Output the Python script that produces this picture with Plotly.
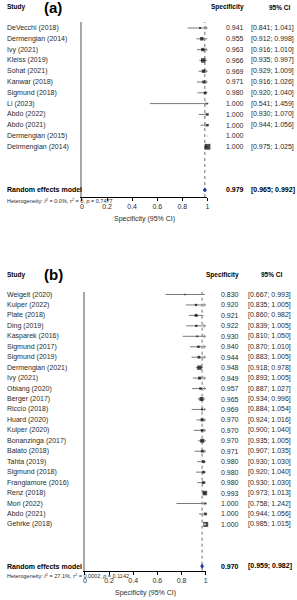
import math
import plotly.graph_objects as go

W, H = 297, 600
FONT = "Liberation Sans, Arial, sans-serif"

# ---------------- data: panel (a) ----------------
a_studies = ["DeVecchi (2018)", "Dermengian (2014)", "Ivy (2021)", "Kleiss (2019)",
             "Sohat (2021)", "Kanwar (2018)", "Sigmund (2018)", "Li (2023)",
             "Abdo (2022)", "Abdo (2021)", "Dermengian (2015)", "Deirmengian (2014)"]
a_est = [0.941, 0.955, 0.963, 0.966, 0.969, 0.971, 0.980, 1.000, 1.000, 1.000, 1.000, 1.000]
a_lower = [0.841, 0.912, 0.916, 0.935, 0.929, 0.916, 0.920, 0.541, 0.930, 0.944, None, 0.975]
a_upper = [1.041, 0.998, 1.010, 0.997, 1.009, 1.026, 1.040, 1.459, 1.070, 1.056, None, 1.025]
a_weight = [2.6, 7.8, 7.8, 13.0, 7.8, 5.8, 4.0, 1.4, 4.0, 4.0, 0.6, 21.5]
a_pooled = [0.979, 0.965, 0.992]
a_het = ("Heterogeneity: <i>I</i><sup>2</sup> = 0.0%, <i>τ</i><sup>2</sup> = 0, "
         "<i>p</i> = 0.7477")

# ---------------- data: panel (b) ----------------
b_studies = ["Weigelt (2020)", "Kuiper (2022)", "Plate (2018)", "Ding (2019)",
             "Kasparek (2016)", "Sigmund (2017)", "Sigmund (2019)", "Dermengian (2021)",
             "Ivy (2021)", "Obiang (2020)", "Berger (2017)", "Riccio (2018)",
             "Huard (2020)", "Kuiper (2020)", "Bonanzinga (2017)", "Balato (2018)",
             "Tahta (2019)", "Sigmund (2018)", "Frangiamore (2016)", "Renz (2018)",
             "Mori (2022)", "Abdo (2021)", "Gehrke (2018)"]
b_est = [0.830, 0.920, 0.921, 0.922, 0.930, 0.940, 0.944, 0.948, 0.949, 0.957, 0.965,
         0.969, 0.970, 0.970, 0.970, 0.971, 0.980, 0.980, 0.980, 0.993, 1.000, 1.000, 1.000]
b_lower = [0.667, 0.835, 0.860, 0.839, 0.810, 0.870, 0.883, 0.918, 0.893, 0.887, 0.934,
           0.884, 0.924, 0.900, 0.935, 0.907, 0.930, 0.920, 0.930, 0.973, 0.758, 0.944, 0.985]
b_upper = [0.993, 1.005, 0.982, 1.005, 1.050, 1.010, 1.005, 0.978, 1.005, 1.027, 0.996,
           1.054, 1.016, 1.040, 1.005, 1.035, 1.030, 1.040, 1.030, 1.013, 1.242, 1.056, 1.015]
b_weight = [1.1, 3.4, 5.8, 3.4, 2.1, 4.0, 5.0, 13.0, 5.8, 4.0, 10.2, 2.6, 5.8, 4.7, 9.2,
            4.7, 4.7, 4.0, 4.7, 13.0, 2.1, 4.7, 16.0]
b_pooled = [0.970, 0.959, 0.982]
b_het = ("Heterogeneity: <i>I</i><sup>2</sup> = 27.1%, <i>τ</i><sup>2</sup> = 0.0002, "
         "<i>p</i> = 0.1142")

tick_vals = [0, 0.2, 0.4, 0.6, 0.8, 1]
tick_text = ["0", "0.2", "0.4", "0.6", "0.8", "1"]
x_title = "Specificity (95% CI)"

# ---------------- layout geometry (pixels) ----------------
cfg_a = dict(xl=81, xr=208.3, yt=22, yb=197, row0=28, step=10.8, pooled_row=15,
             head_y=7, tag="(a)", val_r=247, ci_l=250, hdr_ci_r=295,
             het_y=201, title_y=218.5, ax="", fs=7)
cfg_b = dict(xl=84, xr=206.5, yt=291.7, yb=570.7, row0=294.5, step=10.45, pooled_row=26,
             head_y=275, tag="(b)", val_r=242, ci_l=247, hdr_ci_r=287,
             het_y=575.7, title_y=593, ax="2", fs=7)


def px(x):
    return x / W


def py(y):
    return 1 - y / H


fig = go.Figure()
annotations = []
shapes = []
LINE_GRAY = "#7a7a7a"


def fmt(v):
    return f"{v:.3f}"


def build(studies, est, lower, upper, weight, pooled, het, c):
    xa, ya = "x" + c["ax"], "y" + c["ax"]
    scale = c["xr"] - c["xl"]          # px per unit
    rows = list(range(len(studies)))
    sizes = [1.25 * math.sqrt(w) for w in weight]

    # CI lines (clipped at 1)
    lx, ly, ax_, ay_ = [], [], [], []
    wx, wy = [], []
    dx = 2.2 / scale
    dy = 1.6 / c["step"]
    for r, lo, hi, s in zip(rows, lower, upper, sizes):
        if lo is None:
            continue
        inside = (hi - lo) * scale < s
        if inside:
            wx += [lo, hi, None]
            wy += [r, r, None]
            continue
        lx += [lo, min(hi, 1.0), None]
        ly += [r, r, None]
        if hi > 1.0:
            ax_ += [1.0 - dx, 1.0, 1.0 - dx, None]
            ay_ += [r - dy, r, r + dy, None]
    fig.add_trace(go.Scatter(x=lx, y=ly, mode="lines", xaxis=xa, yaxis=ya,
                             line=dict(color=LINE_GRAY, width=1), hoverinfo="skip",
                             showlegend=False, cliponaxis=False))
    fig.add_trace(go.Scatter(x=ax_, y=ay_, mode="lines", xaxis=xa, yaxis=ya,
                             line=dict(color=LINE_GRAY, width=0.8), hoverinfo="skip",
                             showlegend=False, cliponaxis=False))
    colors = ["#000000" if lo is not None else "#8a8a8a" for lo in lower]
    fig.add_trace(go.Scatter(x=est, y=rows, mode="markers", xaxis=xa, yaxis=ya,
                             marker=dict(symbol="square", size=sizes, color=colors,
                                         line=dict(width=0)),
                             showlegend=False, cliponaxis=False))
    if wx:
        fig.add_trace(go.Scatter(x=wx, y=wy, mode="lines", xaxis=xa, yaxis=ya,
                                 line=dict(color="white", width=1.4), hoverinfo="skip",
                                 showlegend=False, cliponaxis=False))

    # pooled diamond
    pe, plo, phi = pooled
    pr = c["pooled_row"]
    dh = 2.1 / c["step"]
    fig.add_trace(go.Scatter(x=[plo, pe, phi, pe, plo], y=[pr, pr - dh, pr, pr + dh, pr],
                             mode="lines", fill="toself", fillcolor="#1f3fd0",
                             line=dict(color="#1a2f9a", width=0.8), xaxis=xa, yaxis=ya,
                             showlegend=False, hoverinfo="skip", cliponaxis=False))

    # dotted line at pooled estimate
    shapes.append(dict(type="line", xref=xa, yref=ya + " domain", x0=pe, x1=pe, y0=0, y1=1,
                       line=dict(color="#6e6e6e", width=1, dash="dot"), layer="below"))

    fs = c["fs"]
    txt = dict(family=FONT, size=fs, color="#2a2a2a")
    bold = dict(family=FONT, size=fs, color="#000000", weight="bold")

    # study labels + values
    for r, name, e, lo, hi in zip(rows, studies, est, lower, upper):
        annotations.append(dict(text=name, x=px(3), xref="paper", y=r, yref=ya,
                                xanchor="left", yanchor="middle", showarrow=False, font=txt))
        annotations.append(dict(text=fmt(e), x=px(c["val_r"]), xref="paper", y=r, yref=ya,
                                xanchor="right", yanchor="middle", showarrow=False, font=txt))
        if lo is not None:
            annotations.append(dict(text=f"[{fmt(lo)}; {fmt(hi)}]", x=px(c["ci_l"]),
                                    xref="paper", y=r, yref=ya, xanchor="left",
                                    yanchor="middle", showarrow=False, font=txt))
    # pooled row texts
    annotations.append(dict(text="<b>Random effects model</b>", x=px(3), xref="paper", y=pr,
                            yref=ya, xanchor="left", yanchor="middle", showarrow=False,
                            font=bold))
    annotations.append(dict(text=f"<b>{fmt(pe)}</b>", x=px(c["val_r"]), xref="paper", y=pr,
                            yref=ya, xanchor="right", yanchor="middle", showarrow=False,
                            font=bold))
    annotations.append(dict(text=f"<b>[{fmt(plo)}; {fmt(phi)}]</b>", x=px(c["ci_l"]),
                            xref="paper", y=pr, yref=ya, xanchor="left", yanchor="middle",
                            showarrow=False, font=bold))
    # heterogeneity
    annotations.append(dict(text=het, x=px(3), xref="paper", y=py(c["het_y"]), yref="paper",
                            xanchor="left", yanchor="middle", showarrow=False,
                            font=dict(family=FONT, size=5.5, color="#2a2a2a")))
    # headers
    hb = dict(family=FONT, size=6.5, color="#000000")
    annotations.append(dict(text="<b>Study</b>", x=px(3), xref="paper", y=py(c["head_y"]),
                            yref="paper", xanchor="left", yanchor="middle", showarrow=False,
                            font=hb))
    annotations.append(dict(text=f"<b>{c['tag']}</b>", x=px(41), xref="paper",
                            y=py(c["head_y"]), yref="paper", xanchor="left",
                            yanchor="middle", showarrow=False,
                            font=dict(family=FONT, size=15, color="#000000")))
    annotations.append(dict(text="<b>Specificity</b>", x=px(c["val_r"]), xref="paper",
                            y=py(c["head_y"]), yref="paper", xanchor="right",
                            yanchor="middle", showarrow=False, font=hb))
    annotations.append(dict(text="<b>95% CI</b>", x=px(c["hdr_ci_r"]), xref="paper",
                            y=py(c["head_y"]), yref="paper", xanchor="right",
                            yanchor="middle", showarrow=False, font=hb))
    # axis title
    annotations.append(dict(text=x_title, x=0.5, xref=xa + " domain", y=py(c["title_y"]),
                            yref="paper", xanchor="center", yanchor="middle",
                            showarrow=False, font=dict(family=FONT, size=7, color="#2a2a2a")))

    n_bottom = (c["yb"] - c["row0"]) / c["step"]
    n_top = (c["yt"] - c["row0"]) / c["step"]
    xaxis = dict(domain=[px(c["xl"]), px(c["xr"])], range=[0, 1], tickvals=tick_vals,
                 ticktext=tick_text, ticks="outside", ticklen=3, tickwidth=1,
                 tickcolor="#000", showline=True, linecolor="#000", linewidth=1,
                 showgrid=False, zeroline=False, anchor=ya,
                 tickfont=dict(family=FONT, size=7, color="#2a2a2a"))
    yaxis = dict(domain=[py(c["yb"]), py(c["yt"])], range=[n_bottom, n_top],
                 showline=True, linecolor="#a8a8a8", linewidth=1.5, showticklabels=False,
                 ticks="", showgrid=False, zeroline=False, anchor=xa)
    return xaxis, yaxis


xa_a, ya_a = build(a_studies, a_est, a_lower, a_upper, a_weight, a_pooled, a_het, cfg_a)
xa_b, ya_b = build(b_studies, b_est, b_lower, b_upper, b_weight, b_pooled, b_het, cfg_b)

fig.update_layout(
    width=W, height=H, margin=dict(l=0, r=0, t=0, b=0),
    paper_bgcolor="white", plot_bgcolor="white",
    xaxis=xa_a, yaxis=ya_a, xaxis2=xa_b, yaxis2=ya_b,
    annotations=annotations, shapes=shapes, showlegend=False,
    font=dict(family=FONT),
)

fig.write_html("out.html",
               config={"displayModeBar": False},
               post_script="document.body.style.margin='0';"
                           "document.body.style.overflow='hidden';")
